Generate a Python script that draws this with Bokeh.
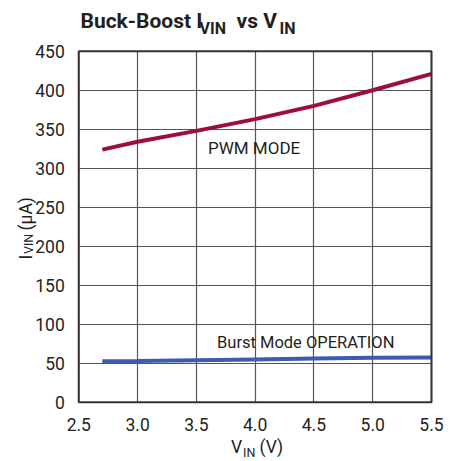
from math import pi
from bokeh.plotting import figure
from bokeh.models import FixedTicker, Label, Range1d, BoxAnnotation
from bokeh.embed import file_html
from bokeh.resources import INLINE

# ---- data ----
vin = [2.7, 3.0, 3.5, 4.0, 4.5, 5.0, 5.5]
pwm_ua = [324, 334, 348, 363, 380, 400, 421]
burst_ua = [52.5, 53, 54, 55, 56, 57, 57.5]
x_ticks = [2.5, 3.0, 3.5, 4.0, 4.5, 5.0, 5.5]
x_tick_labels = ["2.5", "3.0", "3.5", "4.0", "4.5", "5.0", "5.5"]
y_ticks = [0, 50, 100, 150, 200, 250, 300, 350, 400, 450]

FONT = "Roboto"
TXT = "#231f20"
GRID = "#555555"

X0, X1 = x_ticks[0], x_ticks[-1]
Y0, Y1 = y_ticks[0], y_ticks[-1]

# layout in canvas pixels
W = H = 461
BOX_L, BOX_R, BOX_T, BOX_B = 78.3, 431.0, 50.8, 401.8
kx = (X1 - X0) / (BOX_R - BOX_L)
ky = (Y1 - Y0) / (BOX_B - BOX_T)
xr = Range1d(X0 - BOX_L * kx, X1 + (W - BOX_R) * kx)
yr = Range1d(Y0 - (H - BOX_B) * ky, Y1 + BOX_T * ky)


def cx(px):
    """canvas x pixel -> data x"""
    return xr.start + px * kx


def cy(py):
    """canvas y pixel (from top) -> data y"""
    return yr.end - py * ky


p = figure(width=W, height=H, output_backend="svg", toolbar_location=None,
           x_range=xr, y_range=yr, min_border=0)
p.outline_line_color = None
p.background_fill_color = "white"
p.border_fill_color = "white"

for ax in (p.xaxis, p.yaxis):
    ax.axis_line_color = None
    ax.major_tick_line_color = None
    ax.minor_tick_line_color = None
    ax.major_label_text_font = FONT
    ax.major_label_text_font_size = "17.5px"
    ax.major_label_text_color = TXT

p.xaxis.fixed_location = Y0
p.xaxis.bounds = (X0, X1)
p.xaxis.ticker = FixedTicker(ticks=x_ticks)
p.xaxis.major_label_overrides = {t: l for t, l in zip(x_ticks, x_tick_labels)}
p.xaxis.major_label_standoff = 10
p.yaxis.fixed_location = X0
p.yaxis.bounds = (Y0, Y1)
p.yaxis.ticker = FixedTicker(ticks=y_ticks)
p.yaxis.major_label_standoff = 8

p.xgrid.ticker = FixedTicker(ticks=x_ticks)
p.ygrid.ticker = FixedTicker(ticks=y_ticks)
p.xgrid.cross_bounds = (Y0, Y1)
p.ygrid.cross_bounds = (X0, X1)
for g in (p.xgrid, p.ygrid):
    g.grid_line_color = GRID
    g.grid_line_width = 1.2
    g.grid_line_alpha = 1

p.line(vin, pwm_ua, line_color="#9e0e3c", line_width=4)
p.line(vin, burst_ua, line_color="#3d5cb0", line_width=4)

# plot box border
p.add_layout(BoxAnnotation(left=X0, right=X1, bottom=Y0, top=Y1,
                           fill_alpha=0, line_color="#333333", line_width=2, line_alpha=1))


def lab(text, px, py, size, bold=False, angle=0):
    p.add_layout(Label(x=cx(px), y=cy(py), text=text, text_font=FONT, text_font_size=size,
                       text_font_style="bold" if bold else "normal",
                       text_color=TXT, text_align="left", text_baseline="middle",
                       angle=angle))


# title
lab("Buck-Boost I", 80, 20.4, "21px", bold=True)
lab("VIN", 199, 27.5, "16px", bold=True)
lab("vs V", 236, 20.4, "21px", bold=True)
lab("IN", 279, 27.5, "16px", bold=True)

# in-plot labels
lab("PWM MODE", 207.5, 147.5, "17px")
lab("Burst Mode OPERATION", 216.5, 342, "16.5px")

# x axis label
lab("V", 230.5, 446.5, "17.5px")
lab("IN", 242.5, 451.7, "12.5px")
lab("(V)", 259, 446.5, "17.5px")

# y axis label (rotated)
lab("I", 25, 259, "17.5px", angle=pi / 2)
lab("VIN", 27.5, 253.5, "12.5px", angle=pi / 2)
lab("(µA)", 25, 230, "17.5px", angle=pi / 2)

open("out.html", "w").write(file_html(p, INLINE))
